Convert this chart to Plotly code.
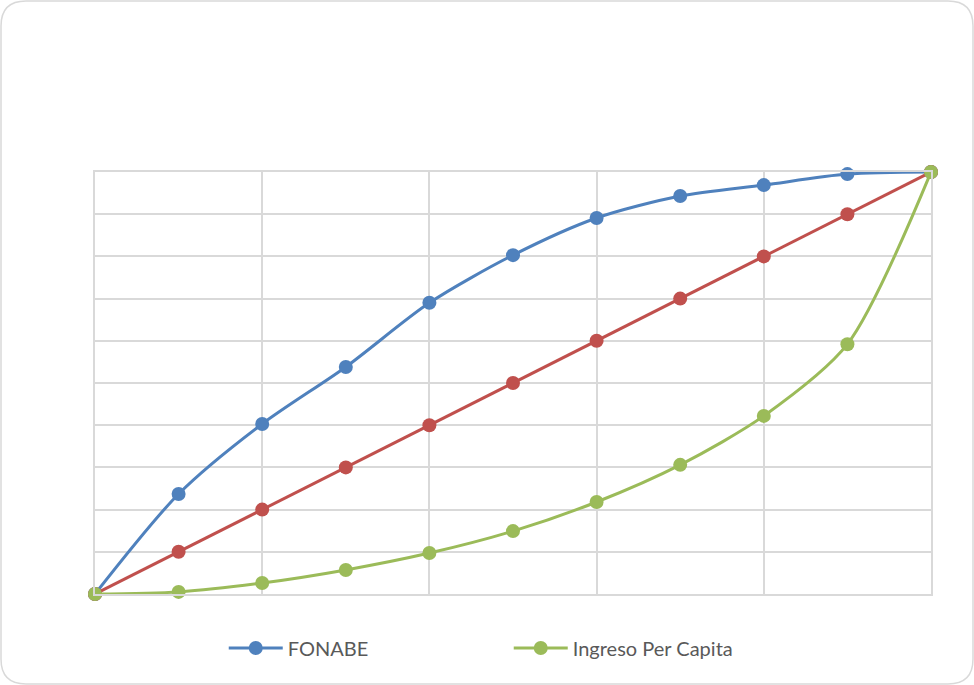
import plotly.graph_objects as go

x_vals = [0, 1, 2, 3, 4, 5, 6, 7, 8, 9, 10]
fonabe = [0, 0.237, 0.403, 0.538, 0.690, 0.803, 0.891, 0.943, 0.969, 0.995, 1.0]
equality = [0, 0.1, 0.2, 0.3, 0.4, 0.5, 0.6, 0.7, 0.8, 0.9, 1.0]
ingreso = [0, 0.005, 0.026, 0.057, 0.097, 0.149, 0.218, 0.306, 0.422, 0.592, 1.0]

W, H = 974, 685
L, R, T, B = 95, 43, 172, 91

fig = go.Figure()
fig.add_trace(go.Scatter(x=x_vals, y=fonabe, name="FONABE", mode="lines+markers", cliponaxis=False,
                         line=dict(color="#4F81BD", width=3, shape="spline", smoothing=0.8),
                         marker=dict(size=14, color="#4F81BD")))
fig.add_trace(go.Scatter(x=x_vals, y=equality, name="Igualdad", mode="lines+markers", showlegend=False,
                         cliponaxis=False,
                         line=dict(color="#C0504D", width=3),
                         marker=dict(size=14, color="#C0504D")))
fig.add_trace(go.Scatter(x=x_vals, y=ingreso, name="Ingreso Per Capita", mode="lines+markers", cliponaxis=False,
                         line=dict(color="#9BBB59", width=3, shape="spline", smoothing=0.8),
                         marker=dict(size=14, color="#9BBB59")))

pw, ph = W - L - R, H - T - B
def px(xp): return (xp - L) / pw
def py(yp): return (H - B - yp) / ph

x0, x1, y0, y1, r = 1, 973, 1, 684, 25
path = (f"M {px(x0+r)} {py(y0)} L {px(x1-r)} {py(y0)} Q {px(x1)} {py(y0)} {px(x1)} {py(y0+r)} "
        f"L {px(x1)} {py(y1-r)} Q {px(x1)} {py(y1)} {px(x1-r)} {py(y1)} "
        f"L {px(x0+r)} {py(y1)} Q {px(x0)} {py(y1)} {px(x0)} {py(y1-r)} "
        f"L {px(x0)} {py(y0+r)} Q {px(x0)} {py(y0)} {px(x0+r)} {py(y0)} Z")

fig.update_layout(
    width=W, height=H,
    margin=dict(l=L, r=R, t=T, b=B),
    paper_bgcolor="white", plot_bgcolor="white",
    font=dict(family="Lato, Liberation Sans, sans-serif", color="#595959", size=20),
    shapes=[dict(type="path", xref="paper", yref="paper", path=path,
                 line=dict(color="#D9D9D9", width=1.5), layer="below")],
    legend=dict(orientation="h", x=0.154, y=-0.128, xanchor="left", yanchor="middle",
                entrywidth=216, font=dict(size=20, color="#595959"), itemwidth=54),
    xaxis=dict(range=[0, 10], tickvals=[0, 2, 4, 6, 8, 10], showticklabels=False,
               showgrid=True, gridcolor="#D9D9D9", gridwidth=1.5, zeroline=False,
               showline=True, linecolor="#D9D9D9", linewidth=1.5, mirror=True, ticks=""),
    yaxis=dict(range=[0, 1], dtick=0.1, showticklabels=False,
               showgrid=True, gridcolor="#D9D9D9", gridwidth=1.5, zeroline=False,
               showline=True, linecolor="#D9D9D9", linewidth=1.5, mirror=True, ticks=""),
)

fig.write_html("out.html", config={"displayModeBar": False},
               post_script="document.body.style.margin='0';")
